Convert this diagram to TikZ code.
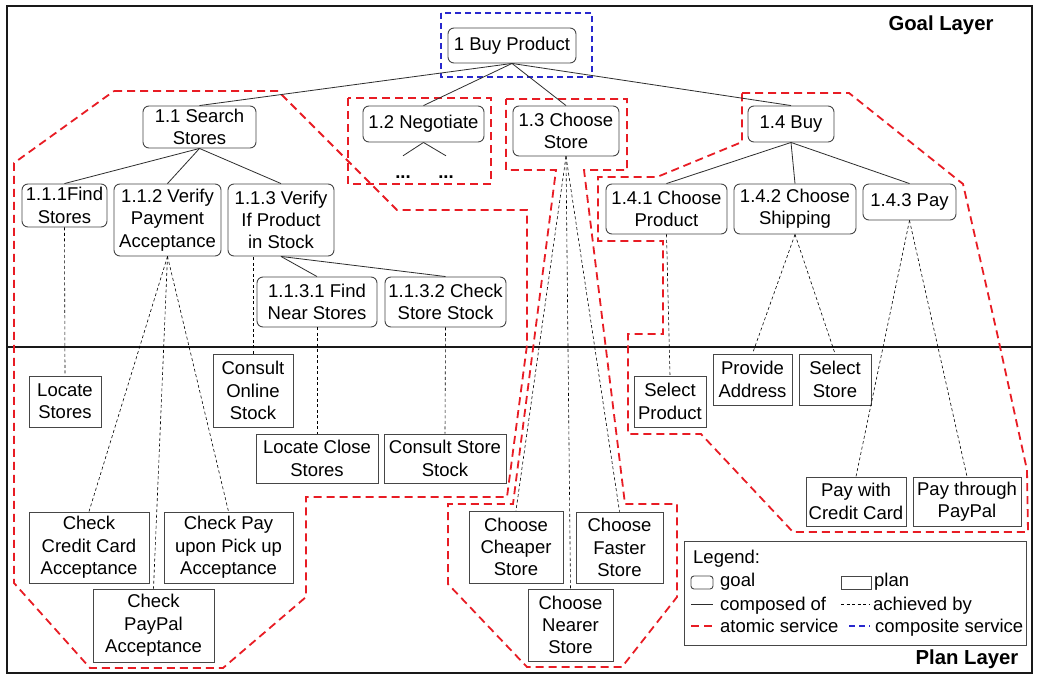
\documentclass[tikz,border=0pt]{standalone}
\usepackage{fontspec}
\setmainfont{Liberation Sans}
\definecolor{boxc}{RGB}{70,70,70}
\definecolor{linec}{RGB}{45,45,45}
\definecolor{framec}{RGB}{25,25,25}
\definecolor{atomred}{RGB}{232,28,36}
\definecolor{compblue}{RGB}{40,40,205}
% goal box / plan box placed by their corner coordinates
\newcommand\gbox[6]{\node[goal, minimum width={#4-#2}, minimum height={#5-#3}] (#1) at ({(#2+#4)/2},{(#3+#5)/2}) {#6};}
\newcommand\pbox[6]{\node[plan, minimum width={#4-#2}, minimum height={#5-#3}] (#1) at ({(#2+#4)/2},{(#3+#5)/2}) {#6};}
\begin{document}
\begin{tikzpicture}[x=1pt,y=-1pt,
  every node/.style={font=\fontsize{18.5}{22.3}\selectfont},
  goal/.style={draw=boxc, line width=0.9pt, rounded corners=6pt, fill=white, align=center, inner sep=0pt},
  plan/.style={draw=boxc, line width=0.9pt, fill=white, align=center, inner sep=0pt},
  comp/.style={draw=linec, line width=0.8pt},
  ach/.style={draw=black, line width=0.6pt, dash pattern=on 3pt off 2.5pt},
  atomic/.style={draw=atomred, line width=1.8pt, dash pattern=on 8pt off 5pt},
  composite/.style={draw=compblue, line width=1.6pt, dash pattern=on 6pt off 4pt},
  layertitle/.style={font=\bfseries\fontsize{20.3}{24}\selectfont, anchor=base, inner sep=0pt},
  legtext/.style={anchor=base west, inner sep=0pt},
  ellip/.style={font=\bfseries\fontsize{18.5}{22.3}\selectfont, anchor=base, inner sep=0pt, text height=22pt, text depth=0pt}]
\useasboundingbox (0,0) rectangle (1037,675);
\fill[white] (0,0) rectangle (1037,675);

% frame and the boundary between the two layers
\draw[framec, line width=2pt] (7,6) rectangle (1032,673);
\draw[framec, line width=2pt] (7,347) -- (1032,347);
\node[layertitle] (goallayer) at (941,30) {Goal Layer};
\node[layertitle] (planlayer) at (967,664) {Plan Layer};

% service groupings
\draw[composite] (441,13) rectangle (592,77);
\draw[atomic] (114,91) -- (278,91) -- (397,210) -- (527,210) -- (527,345) -- (507,497)
  -- (306,497) -- (306,597) -- (223,668) -- (90,668) -- (14,583) -- (14,163) -- cycle;
\draw[atomic] (348,98) rectangle (491,184);
\draw[atomic] (506,99) -- (627,99) -- (627,170) -- (584,170) -- (625,504) -- (677,504)
  -- (677,597) -- (622,667) -- (527,667) -- (448,584) -- (448,504) -- (513,504)
  -- (556,170) -- (506,170) -- cycle;
\draw[atomic] (742,93) -- (849,93) -- (963,184) -- (997,333) -- (1027,470) -- (1028,532)
  -- (793,532) -- (701,434) -- (628,434) -- (628,334) -- (663,334) -- (663,241)
  -- (598,241) -- (598,177) -- (657,177) -- (742,142) -- cycle;

% goals
\gbox{g1}{448}{28}{576}{63}{1 Buy Product}
\gbox{g11}{143}{106}{256}{148}{1.1 Search\\Stores}
\gbox{g12}{363}{106}{484}{142}{1.2 Negotiate}
\gbox{g13}{513}{106}{619}{156}{1.3 Choose\\Store}
\gbox{g14}{748}{106}{834}{142}{1.4 Buy}
\gbox{g111}{22}{184}{107}{227}{1.1.1Find\\Stores}
\gbox{g112}{114}{184}{221}{256}{1.1.2 Verify\\Payment\\Acceptance}
\gbox{g113}{228}{184}{334}{256}{1.1.3 Verify\\If Product\\in Stock}
\gbox{g1131}{257}{277}{377}{327}{1.1.3.1 Find\\Near Stores}
\gbox{g1132}{385}{277}{506}{327}{1.1.3.2 Check\\Store Stock}
\gbox{g141}{606}{184}{727}{234}{1.4.1 Choose\\Product}
\gbox{g142}{734}{184}{856}{234}{1.4.2 Choose\\Shipping}
\gbox{g143}{863}{184}{956}{220}{1.4.3 Pay}
\node[ellip] (dotsa) at (403,178) {...};
\node[ellip] (dotsb) at (446,178) {...};

% plans
\pbox{locst}{29}{376}{101}{427}{Locate\\Stores}
\pbox{cos}{213}{354}{293}{427}{Consult\\Online\\Stock}
\pbox{lcs}{256}{434}{378}{483}{Locate Close\\Stores}
\pbox{css}{384}{434}{506}{483}{Consult Store\\Stock}
\pbox{ccc}{29}{512}{149}{583}{Check\\Credit Card\\Acceptance}
\pbox{cpu}{164}{512}{293}{583}{Check Pay\\upon Pick up\\Acceptance}
\pbox{cpp}{93}{589}{214}{662}{Check\\PayPal\\Acceptance}
\pbox{cch}{469}{511}{563}{583}{Choose\\Cheaper\\Store}
\pbox{cfa}{576}{512}{663}{583}{Choose\\Faster\\Store}
\pbox{cne}{528}{589}{613}{661}{Choose\\Nearer\\Store}
\pbox{spr}{634}{376}{706}{427}{Select\\Product}
\pbox{pad}{713}{354}{792}{405}{Provide\\Address}
\pbox{sst}{799}{354}{871}{405}{Select\\Store}
\pbox{pcc}{806}{477}{906}{526}{Pay with\\Credit Card}
\pbox{ppp}{913}{477}{1021}{526}{Pay through\\PayPal}

% composed-of links
\foreach \c in {g11,g12,g13,g14} \draw[comp] (g1.south) -- (\c.north);
\foreach \c in {g111,g112,g113} \draw[comp] (g11.south) -- (\c.north);
\foreach \c in {g1131,g1132} \draw[comp] (g113.south) -- (\c.north);
\foreach \c in {g141,g142,g143} \draw[comp] (g14.south) -- (\c.north);
\foreach \c in {dotsa,dotsb} \draw[comp] (g12.south) -- (\c.north);

% achieved-by links
\draw[ach] (g111.south) -- (locst.north);
\foreach \c in {ccc,cpp,cpu} \draw[ach] (g112.south) -- (\c.north);
\draw[ach] (cos.north) -- (cos.north |- g113.south);
\draw[ach] (g1131.south) -- (lcs.north);
\draw[ach] (g1132.south) -- (css.north);
\foreach \c in {cch,cne,cfa} \draw[ach] (g13.south) -- (\c.north);
\draw[ach] (g141.south) -- (spr.north);
\foreach \c in {pad,sst} \draw[ach] (g142.south) -- (\c.north);
\foreach \c in {pcc,ppp} \draw[ach] (g143.south) -- (\c.north);

% legend
\node[plan, minimum width=342, minimum height=104] (legend) at (855,593) {};
\node[legtext] (legtitle) at (693,563.5) {Legend:};
\draw[draw=boxc, line width=0.9pt, rounded corners=3pt] (691,576) rectangle (713,589);
\node[legtext] (leggoal) at (720,586.5) {goal};
\draw[draw=boxc, line width=0.9pt] (841,576) rectangle (871,589);
\node[legtext] (legplan) at (874,586.5) {plan};
\draw[comp] (691,604) -- (713,604);
\node[legtext] (legcomp) at (720,610.5) {composed of};
\draw[ach] (841,604) -- (870,604);
\node[legtext] (legach) at (873,610.5) {achieved by};
\draw[atomic] (691,626) -- (713,626);
\node[legtext] (legatom) at (720,632.5) {atomic service};
\draw[composite] (849,626) -- (870,626);
\node[legtext] (legcompo) at (875,632.5) {composite service};
\end{tikzpicture}
\end{document}
